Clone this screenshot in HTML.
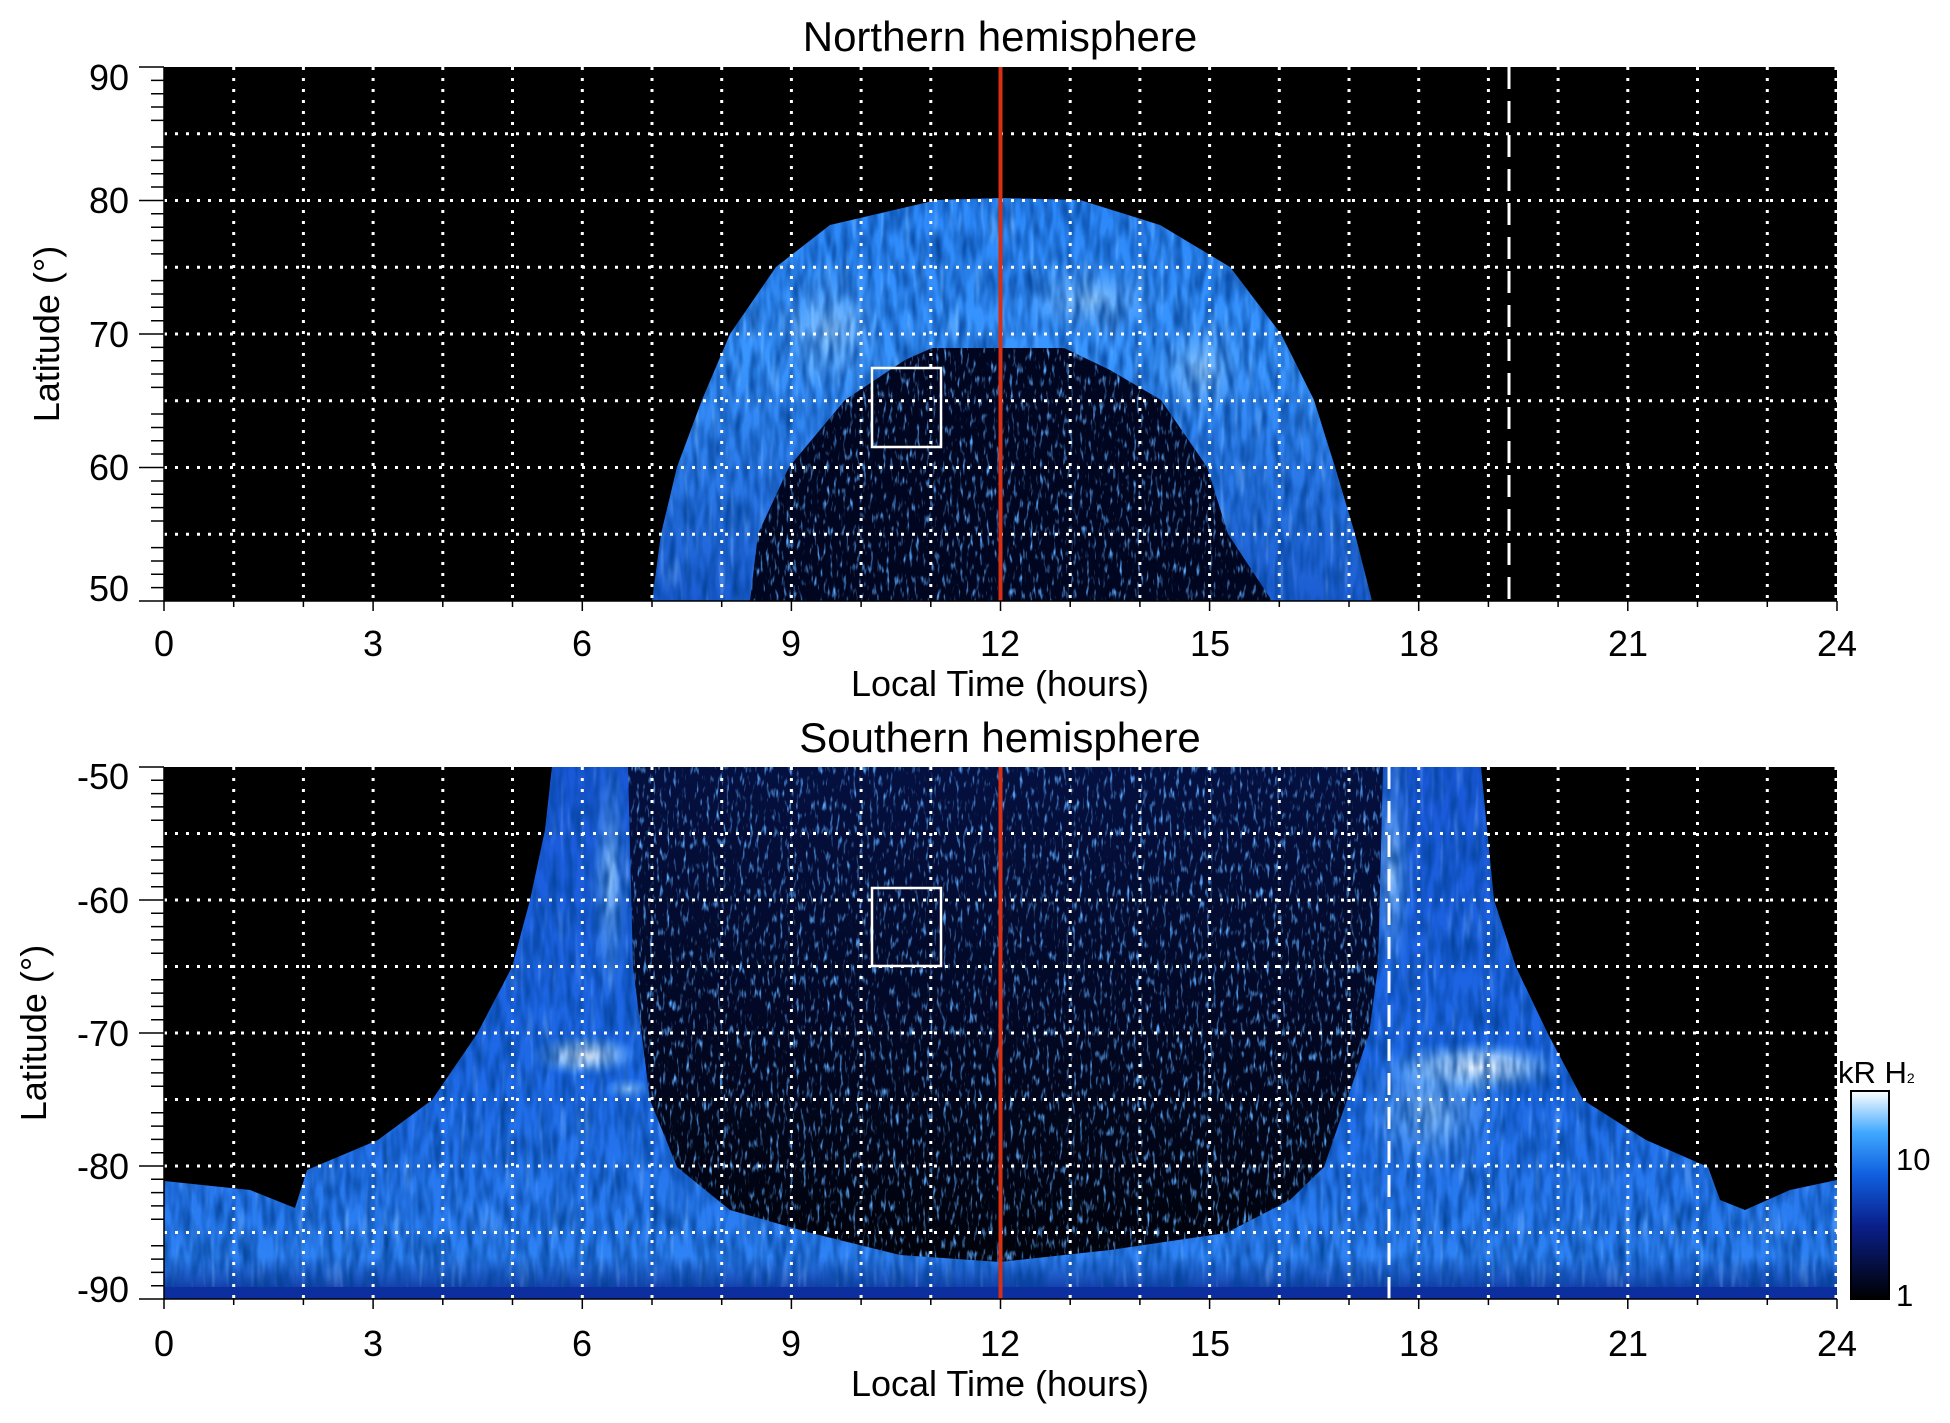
<!DOCTYPE html>
<html><head><meta charset="utf-8"><style>
html,body{margin:0;padding:0;background:#fff}
svg{display:block}
text{font-family:"Liberation Sans",Arial,sans-serif;fill:#000}
</style></head><body>
<svg width="1950" height="1423" viewBox="0 0 1950 1423" xmlns="http://www.w3.org/2000/svg">
<defs>
<filter id="tex" x="0" y="0" width="100%" height="100%">
<feTurbulence type="fractalNoise" baseFrequency="0.12 0.03" numOctaves="2" seed="3"/>
<feColorMatrix type="matrix" values="0 0 0 0 0  0 0 0 0 0.05  0 0 0 0 0.3  0 0 0 -1.6 1.05"/>
</filter>
<filter id="lite" x="0" y="0" width="100%" height="100%">
<feTurbulence type="fractalNoise" baseFrequency="0.2 0.02" numOctaves="1" seed="11"/>
<feColorMatrix type="matrix" values="0 0 0 0 0.45  0 0 0 0 0.75  0 0 0 0 1  0 0 0 2.2 -1.25"/>
</filter>
<filter id="spk" x="0" y="0" width="100%" height="100%">
<feTurbulence type="fractalNoise" baseFrequency="0.3 0.08" numOctaves="2" seed="7"/>
<feColorMatrix type="matrix" values="0 0 0 0 0.1  0 0 0 0 0.4  0 0 0 0 1  0 0 0 3.5 -2.0"/>
</filter>
<linearGradient id="cb" x1="0" y1="1" x2="0" y2="0">
<stop offset="0" stop-color="#000"/><stop offset="0.35" stop-color="#0a1f8a"/>
<stop offset="0.6" stop-color="#1060e0"/><stop offset="0.8" stop-color="#40a8ff"/><stop offset="1" stop-color="#fff"/>
</linearGradient>
<radialGradient id="bN1" cx="0.5" cy="0.5" r="0.5"><stop offset="0" stop-color="#a8d8ff" stop-opacity="0.8"/><stop offset="1" stop-color="#4aa0ff" stop-opacity="0"/></radialGradient>
<radialGradient id="bS" cx="0.5" cy="0.5" r="0.5"><stop offset="0" stop-color="#ffffff" stop-opacity="1"/><stop offset="0.5" stop-color="#b8e0ff" stop-opacity="0.7"/><stop offset="1" stop-color="#4aa0ff" stop-opacity="0"/></radialGradient>
<linearGradient id="ringG" x1="0" y1="0" x2="0" y2="1">
<stop offset="0" stop-color="#2a86f8"/><stop offset="0.4" stop-color="#3a96ff"/><stop offset="1" stop-color="#1a5ad0"/>
</linearGradient>
<linearGradient id="botG" x1="0" y1="0" x2="0" y2="1">
<stop offset="0" stop-color="#1a58d8"/><stop offset="0.6" stop-color="#1e6ae8"/><stop offset="0.92" stop-color="#2e82f4"/><stop offset="1" stop-color="#0a2a90"/>
</linearGradient>
<linearGradient id="inG" x1="0" y1="0" x2="0" y2="1">
<stop offset="0" stop-color="#041040"/><stop offset="0.5" stop-color="#020824"/><stop offset="1" stop-color="#00020a"/>
</linearGradient>
<clipPath id="cpT"><rect x="164" y="67" width="1673" height="534"/></clipPath>
<clipPath id="cpB"><rect x="164" y="767" width="1673" height="532"/></clipPath>
<clipPath id="ringClip"><path d="M652,601 L661,534 L677,467 L702,400 L730,334 L776,267 L830,225 L937,200 L1000,198 L1080,200 L1160,225 L1230,267 L1281,334 L1314,400 L1335,467 L1355,534 L1372,601 Z"/></clipPath>
<clipPath id="innerClipT"><path d="M750,601 L758,534 L789,467 L845,400 L905,360 L932,348 L1064,348 L1110,370 L1161,400 L1207,467 L1228,534 L1272,601 Z"/></clipPath>
<clipPath id="blueB"><path d="M164,1181 L250,1190 L295,1208 L307,1170 L378,1140 L432,1100 L477,1034 L512,967 L530,900 L545,830 L552,767 L1481,767 L1494,900 L1516,967 L1548,1034 L1583,1100 L1646,1140 L1708,1167 L1720,1200 L1745,1210 L1790,1190 L1837,1180 L1837,1299 L164,1299 Z"/></clipPath>
<clipPath id="innerB"><path d="M628,767 L633,967 L650,1100 L677,1167 L730,1210 L811,1233 L900,1255 L1000,1262 L1110,1250 L1226,1233 L1290,1200 L1324,1167 L1347,1100 L1369,1034 L1378,967 L1383,767 Z"/></clipPath>
</defs>

<rect x="164" y="67" width="1673" height="534" fill="#000"/>
<g clip-path="url(#cpT)">
<g clip-path="url(#ringClip)">
<rect x="600" y="190" width="800" height="420" fill="url(#ringG)"/>
<ellipse cx="830" cy="330" rx="60" ry="70" fill="url(#bN1)"/>
<ellipse cx="1090" cy="300" rx="80" ry="40" fill="url(#bN1)"/>
<ellipse cx="1200" cy="370" rx="50" ry="55" fill="url(#bN1)"/>
<rect x="600" y="190" width="800" height="420" filter="url(#lite)" opacity="0.6"/>
<rect x="600" y="190" width="800" height="420" filter="url(#tex)"/>
</g>
<g clip-path="url(#innerClipT)">
<rect x="740" y="340" width="540" height="270" fill="#010620"/>
<rect x="740" y="340" width="540" height="270" filter="url(#spk)"/>
</g>
</g>
<rect x="164" y="767" width="1673" height="532" fill="#000"/>
<g clip-path="url(#cpB)">
<g clip-path="url(#blueB)">
<rect x="164" y="767" width="1673" height="532" fill="url(#botG)"/>
<ellipse cx="610" cy="880" rx="20" ry="130" fill="url(#bN1)"/>
<ellipse cx="584" cy="1055" rx="55" ry="22" fill="url(#bS)"/>
<ellipse cx="628" cy="1089" rx="25" ry="12" fill="url(#bN1)"/>
<ellipse cx="1392" cy="870" rx="22" ry="120" fill="url(#bN1)"/>
<ellipse cx="1475" cy="1068" rx="95" ry="28" fill="url(#bS)"/>
<ellipse cx="1430" cy="1110" rx="80" ry="70" fill="url(#bN1)"/>
<rect x="164" y="767" width="1673" height="532" filter="url(#lite)" opacity="0.5"/>
<rect x="164" y="767" width="1673" height="532" filter="url(#tex)"/>
</g>
<g clip-path="url(#innerB)">
<rect x="620" y="767" width="770" height="500" fill="url(#inG)"/>
<rect x="620" y="767" width="770" height="500" filter="url(#spk)"/>
</g>
<rect x="164" y="1287" width="1673" height="12" fill="#0c2e9e"/>
</g>

<g stroke="#fff" stroke-width="3" stroke-dasharray="3 8" fill="none">
<path d="M233.7,67V601M303.4,67V601M373.1,67V601M442.8,67V601M512.5,67V601M582.3,67V601M652,67V601M721.7,67V601M791.4,67V601M861.1,67V601M930.8,67V601M1070.2,67V601M1139.9,67V601M1209.6,67V601M1279.3,67V601M1349,67V601M1418.7,67V601M1488.4,67V601M1558.1,67V601M1627.8,67V601M1697.5,67V601M1767.3,67V601M1836,67V601"/>
<path d="M164,133.7H1837M164,200.5H1837M164,267.2H1837M164,334H1837M164,400.7H1837M164,467.5H1837M164,534.2H1837"/>
<path d="M233.7,767V1299M303.4,767V1299M373.1,767V1299M442.8,767V1299M512.5,767V1299M582.3,767V1299M652,767V1299M721.7,767V1299M791.4,767V1299M861.1,767V1299M930.8,767V1299M1070.2,767V1299M1139.9,767V1299M1209.6,767V1299M1279.3,767V1299M1349,767V1299M1418.7,767V1299M1488.4,767V1299M1558.1,767V1299M1627.8,767V1299M1697.5,767V1299M1767.3,767V1299M1836,767V1299"/>
<path d="M164,833.5H1837M164,900H1837M164,966.5H1837M164,1033H1837M164,1099.5H1837M164,1166H1837M164,1232.5H1837"/>
</g>
<line x1="1509" y1="67" x2="1509" y2="601" stroke="#fff" stroke-width="3" stroke-dasharray="22 12"/>
<line x1="1389" y1="767" x2="1389" y2="1299" stroke="#fff" stroke-width="3" stroke-dasharray="22 12"/>
<line x1="1000.5" y1="67" x2="1000.5" y2="601" stroke="#d83010" stroke-width="4"/>
<line x1="1000.5" y1="767" x2="1000.5" y2="1299" stroke="#d83010" stroke-width="4"/>
<rect x="872" y="368" width="69" height="79" fill="none" stroke="#fff" stroke-width="2.5"/>
<rect x="872" y="888" width="69" height="78" fill="none" stroke="#fff" stroke-width="2.5"/>

<g stroke="#000" stroke-width="1.5" fill="none">
<path d="M164,67V601H1837M164,767V1299H1837"/>
<path d="M139,67H164M139,200.5H164M139,334H164M139,467.5H164M139,601H164"/>
<path d="M139,767H164M139,900H164M139,1033H164M139,1166H164M139,1299H164"/>
<path d="M164,601v10M373.1,601v10M582.3,601v10M791.4,601v10M1000.5,601v10M1209.6,601v10M1418.7,601v10M1627.8,601v10M1837,601v10M233.7,601v6M303.4,601v6M442.8,601v6M512.5,601v6M652,601v6M721.7,601v6M861.1,601v6M930.8,601v6M1070.2,601v6M1139.9,601v6M1279.3,601v6M1349,601v6M1488.4,601v6M1558.1,601v6M1697.5,601v6M1767.3,601v6"/>
<path d="M164,1299v10M373.1,1299v10M582.3,1299v10M791.4,1299v10M1000.5,1299v10M1209.6,1299v10M1418.7,1299v10M1627.8,1299v10M1837,1299v10M233.7,1299v6M303.4,1299v6M442.8,1299v6M512.5,1299v6M652,1299v6M721.7,1299v6M861.1,1299v6M930.8,1299v6M1070.2,1299v6M1139.9,1299v6M1279.3,1299v6M1349,1299v6M1488.4,1299v6M1558.1,1299v6M1697.5,1299v6M1767.3,1299v6"/>
<path d="M151,80.4H164M151,93.7H164M151,107H164M151,120.4H164M151,147H164M151,160.4H164M151,173.8H164M151,187H164M151,213.8H164M151,227.2H164M151,240.5H164M151,253.9H164M151,280.6H164M151,294H164M151,307.3H164M151,320.7H164M151,347.4H164M151,360.7H164M151,374H164M151,387.4H164M151,414H164M151,427.5H164M151,440.8H164M151,454H164M151,481H164M151,494.2H164M151,507.6H164M151,521H164M151,547.6H164M151,561H164M151,574.3H164M151,587.6H164"/>
<path d="M151,780.3H164M151,793.6H164M151,806.9H164M151,820.2H164M151,846.8H164M151,860.1H164M151,873.4H164M151,886.7H164M151,913.3H164M151,926.6H164M151,939.9H164M151,953.2H164M151,979.8H164M151,993.1H164M151,1006.4H164M151,1019.7H164M151,1046.3H164M151,1059.6H164M151,1072.9H164M151,1086.2H164M151,1112.8H164M151,1126.1H164M151,1139.4H164M151,1152.7H164M151,1179.3H164M151,1192.6H164M151,1205.9H164M151,1219.2H164M151,1245.8H164M151,1259.1H164M151,1272.4H164M151,1285.7H164"/>
</g>

<g font-size="36" text-anchor="end">
<text x="129" y="90">90</text><text x="129" y="213">80</text><text x="129" y="347">70</text><text x="129" y="480">60</text><text x="129" y="601">50</text>
<text x="129" y="789">-50</text><text x="129" y="913">-60</text><text x="129" y="1046">-70</text><text x="129" y="1179">-80</text><text x="129" y="1302">-90</text>
</g>
<g font-size="36" text-anchor="middle">
<text x="164" y="656">0</text><text x="373" y="656">3</text><text x="582" y="656">6</text><text x="791" y="656">9</text><text x="1000" y="656">12</text><text x="1210" y="656">15</text><text x="1419" y="656">18</text><text x="1628" y="656">21</text><text x="1837" y="656">24</text>
<text x="164" y="1356">0</text><text x="373" y="1356">3</text><text x="582" y="1356">6</text><text x="791" y="1356">9</text><text x="1000" y="1356">12</text><text x="1210" y="1356">15</text><text x="1419" y="1356">18</text><text x="1628" y="1356">21</text><text x="1837" y="1356">24</text>
<text x="1000" y="696">Local Time (hours)</text>
<text x="1000" y="1396">Local Time (hours)</text>
<text x="1000" y="51" font-size="42">Northern hemisphere</text>
<text x="1000" y="752" font-size="42">Southern hemisphere</text>
<text transform="translate(59,334) rotate(-90)">Latitude (°)</text>
<text transform="translate(46,1033) rotate(-90)">Latitude (°)</text>
</g>

<rect x="1851" y="1091" width="38" height="208" fill="url(#cb)" stroke="#000" stroke-width="2"/>
<g font-size="31"><text x="1896" y="1170">10</text><text x="1896" y="1306">1</text>
<text x="1838" y="1083">kR H<tspan font-size="14">2</tspan></text></g>
</svg>
</body></html>
